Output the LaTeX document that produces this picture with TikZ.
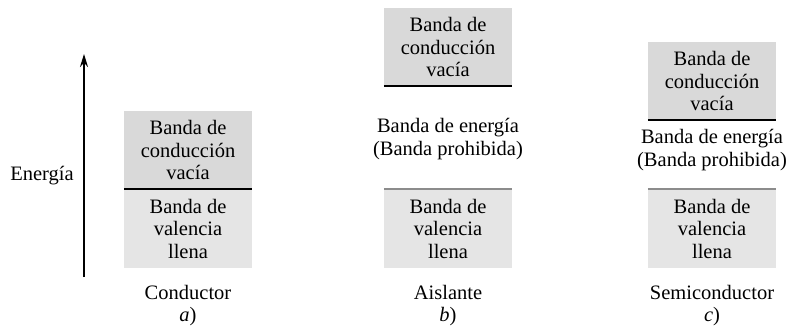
\documentclass[tikz,border=0pt]{standalone}
\usepackage{fontspec}
\setmainfont{Liberation Serif}
\usetikzlibrary{arrows.meta}
\begin{document}
\begin{tikzpicture}[x=1pt,y=-1pt,
		band/.style={minimum width=128pt,minimum height=78pt,inner sep=0pt,align=center,
			font=\fontsize{20.5}{22.5}\selectfont},
		leer/.style={band,fill=gray!30},
		voll/.style={band,fill=gray!20,minimum height=79pt},
		txt/.style={align=center,inner sep=0pt,font=\fontsize{20.5}{22.5}\selectfont},
		kante/.style={line width=2pt},
		grenze/.style={line width=2pt,draw=black!45}]
	\useasboundingbox (0,0) rectangle (792,330);
	
	% Energieachse
	\coordinate (e-fuss) at (84,277);
	\coordinate (e-kopf) at (84,54);
	\draw[line width=2pt,-{Stealth[length=13pt,width=8pt]}] (e-fuss) -- (e-kopf);
	\node[txt] (energia) at (42,176) {Energía};
	
	% a) Leiter
	\node[leer] (cond-up) at (188,150) {Banda de\\conducción\\vacía};
	\node[voll] (cond-low) at (188,228.5) {Banda de\\valencia\\llena};
	\draw[kante] (cond-up.south west) -- (cond-up.south east);
	\node[txt] (cond-name) at (188,292) {Conductor};
	\node[txt] (cond-tag) at (188,317) {\textit{a})};
	
	% b) Isolator
	\node[leer] (ais-up) at (448,47) {Banda de\\conducción\\vacía};
	\draw[kante] (ais-up.south west) -- (ais-up.south east);
	\node[txt] (ais-gap) at (448,139) {Banda de energía\\(Banda prohibida)};
	\node[voll] (ais-low) at (448,228.5) {Banda de\\valencia\\llena};
	\draw[grenze] (ais-low.north west) -- (ais-low.north east);
	\node[txt] (ais-name) at (448,292) {Aislante};
	\node[txt] (ais-tag) at (448,317) {\textit{b})};
	
	% c) Halbleiter
	\node[leer] (semi-up) at (712,81) {Banda de\\conducción\\vacía};
	\draw[kante] (semi-up.south west) -- (semi-up.south east);
	\node[txt] (semi-gap) at (712,150) {Banda de energía\\(Banda prohibida)};
	\node[voll] (semi-low) at (712,228.5) {Banda de\\valencia\\llena};
	\draw[grenze] (semi-low.north west) -- (semi-low.north east);
	\node[txt] (semi-name) at (712,292) {Semiconductor};
	\node[txt] (semi-tag) at (712,317) {\textit{c})};
	
\end{tikzpicture}
\end{document}
